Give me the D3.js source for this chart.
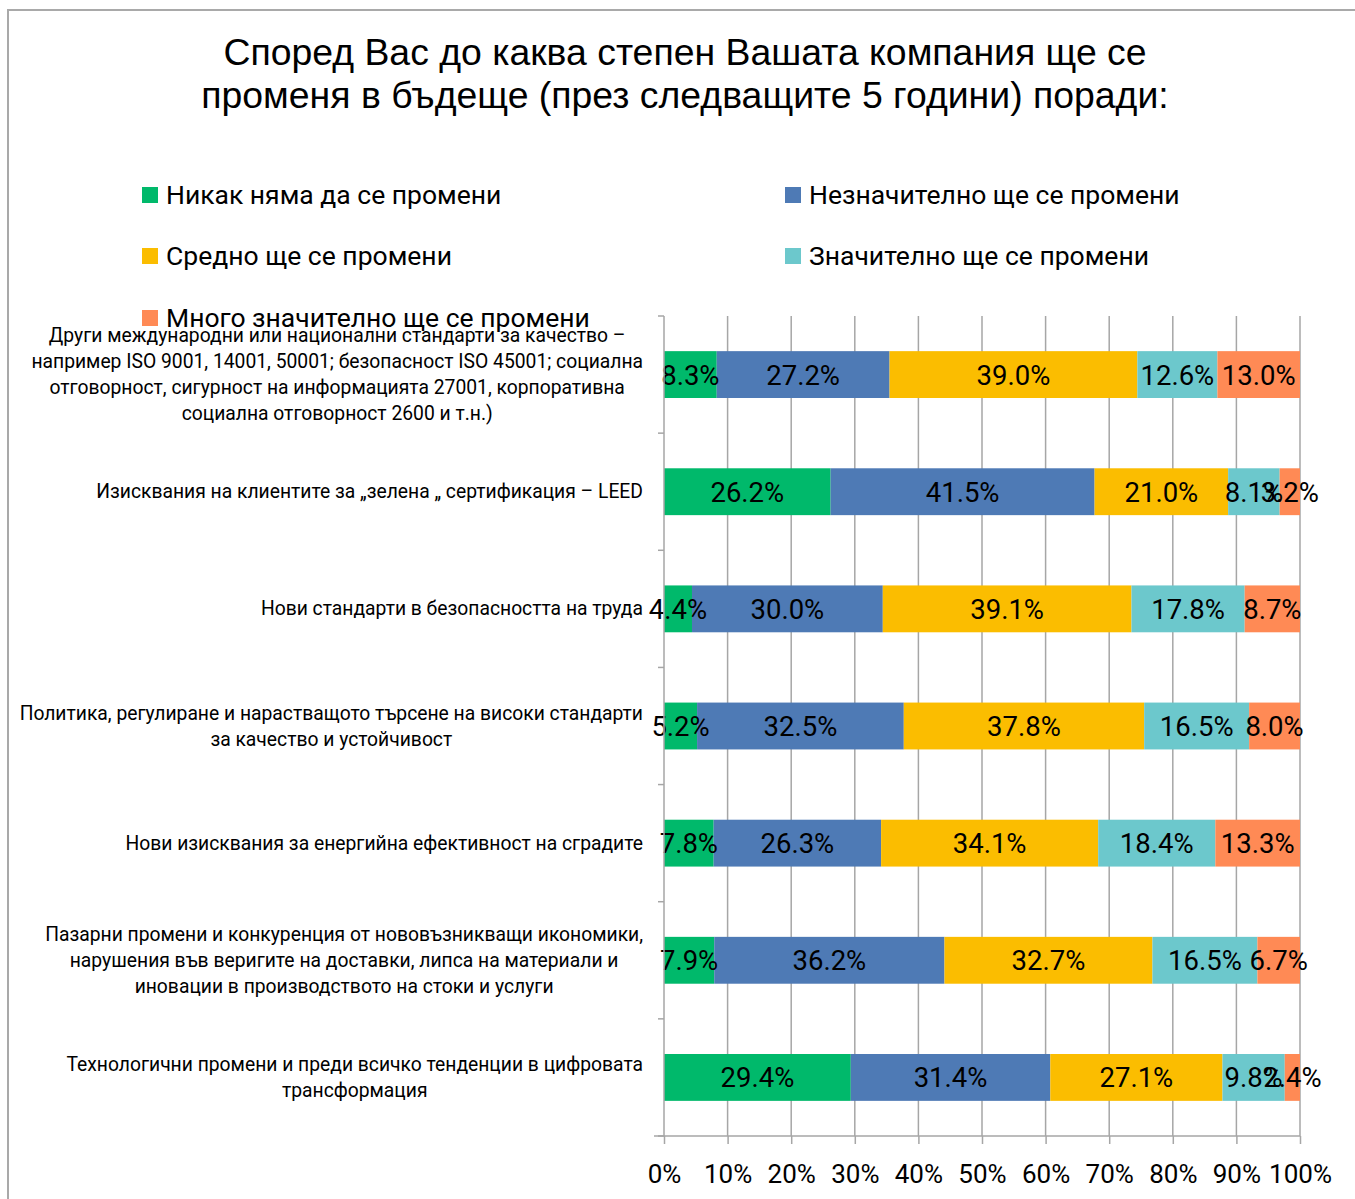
<!DOCTYPE html>
<html>
<head>
<meta charset="utf-8">
<script src="https://cdn.jsdelivr.net/npm/d3@7"></script>
<style>
    body { margin: 0; background: #fff; }
    text { fill: #000; }
    .title { font-family: "Liberation Sans", Arial, sans-serif; font-size: 37.4px; }
    .legend-text { font-family: Roboto, sans-serif; font-size: 26.5px; }
    .cat-label { font-family: Roboto, sans-serif; font-size: 19.3px; }
    .val-label { font-family: Roboto, sans-serif; font-size: 27.5px; }
    .tick-label { font-family: Roboto, sans-serif; font-size: 26px; }
</style>
</head>
<body>
<div id="chart"></div>
<script>
// categories (top to bottom), each split into display lines
const categories = [
    ["Други международни или национални стандарти за качество –",
     "например ISO 9001, 14001, 50001; безопасност ISO 45001; социална",
     "отговорност, сигурност на информацията 27001, корпоративна",
     "социална отговорност 2600 и т.н.)"],
    ["Изисквания на клиентите за „зелена „ сертификация – LEED"],
    ["Нови стандарти в безопасността на труда"],
    ["Политика, регулиране и нарастващото търсене на високи стандарти",
     "за качество и устойчивост"],
    ["Нови изисквания за енергийна ефективност на сградите"],
    ["Пазарни промени и конкуренция от нововъзникващи икономики,",
     "нарушения във веригите на доставки, липса на материали и",
     "иновации в производството на стоки и услуги"],
    ["Технологични промени и преди всичко тенденции в цифровата",
     "трансформация"]
];

const seriesNames = [
    "Никак няма да се промени",
    "Незначително ще се промени",
    "Средно ще се промени",
    "Значително ще се промени",
    "Много значително ще се промени"
];
const seriesColors = ["#00B96B", "#4E7AB5", "#FBBD00", "#6CC8CC", "#FF8A55"];

// percentages per series, same order as categories
const nikak        = [8.3, 26.2, 4.4, 5.2, 7.8, 7.9, 29.4];
const neznachitelno = [27.2, 41.5, 30.0, 32.5, 26.3, 36.2, 31.4];
const sredno       = [39.0, 21.0, 39.1, 37.8, 34.1, 32.7, 27.1];
const znachitelno  = [12.6, 8.1, 17.8, 16.5, 18.4, 16.5, 9.8];
const mnogo        = [13.0, 3.2, 8.7, 8.0, 13.3, 6.7, 2.4];

const xTicks = [0, 0.1, 0.2, 0.3, 0.4, 0.5, 0.6, 0.7, 0.8, 0.9, 1.0];

const titleLines = [
    "Според Вас до каква степен Вашата компания ще се",
    "променя в бъдеще (през следващите 5 години) поради:"
];

const seriesValues = [nikak, neznachitelno, sredno, znachitelno, mnogo];

// build rows: {key, s0..s4}
const rows = categories.map((c, i) => {
    let row = {key: i};
    seriesValues.forEach((s, j) => { row["s" + j] = s[i]; });
    return row;
});
const keys = seriesNames.map((d, j) => "s" + j);

const W = 1355, H = 1199;
const plot = {left: 664, right: 1300, top: 316, bottom: 1136};

const svg = d3.select("#chart").append("svg")
    .attr("width", W)
    .attr("height", H);

svg.append("rect").attr("width", W).attr("height", H).attr("fill", "#fff");

// outer frame
svg.append("rect")
    .attr("x", 8).attr("y", 10)
    .attr("width", W + 20).attr("height", H + 20)
    .attr("fill", "none")
    .attr("stroke", "#a9a9a9")
    .attr("stroke-width", 2);

// title
svg.append("text")
    .attr("class", "title")
    .attr("text-anchor", "middle")
    .selectAll("tspan")
    .data(titleLines)
    .enter()
    .append("tspan")
    .attr("x", 685)
    .attr("y", (d, i) => 65 + i * 43)
    .text(d => d);

// legend
const legendPos = [
    [142, 195], [785, 195],
    [142, 256], [785, 256],
    [142, 318]
];
const legend = svg.append("g").attr("class", "legend");
seriesNames.forEach((name, j) => {
    let g = legend.append("g")
        .attr("transform", `translate(${legendPos[j][0]}, ${legendPos[j][1]})`);
    g.append("rect")
        .attr("x", 0).attr("y", -8)
        .attr("width", 16).attr("height", 16)
        .attr("fill", seriesColors[j]);
    g.append("text")
        .attr("class", "legend-text")
        .attr("x", 24)
        .attr("y", 9)
        .text(name);
});

// scales
const xScale = d3.scaleLinear()
    .domain([0, 1])
    .range([plot.left, plot.right]);

const yScale = d3.scaleBand()
    .domain(rows.map(d => d.key))
    .range([plot.top, plot.bottom])
    .paddingInner(0.6)
    .paddingOuter(0.3);

// gridlines
svg.append("g")
    .selectAll("line")
    .data(xTicks.slice(1))
    .enter()
    .append("line")
    .attr("x1", d => xScale(d)).attr("x2", d => xScale(d))
    .attr("y1", plot.top).attr("y2", plot.bottom)
    .attr("stroke", "#a6a6a6")
    .attr("stroke-width", 1.5);

// stacked bars (100% normalised like the original)
const stack = d3.stack().keys(keys).offset(d3.stackOffsetExpand);
const stacked = stack(rows);

const layers = svg.append("g").selectAll("g")
    .data(stacked)
    .enter()
    .append("g")
    .attr("fill", (d, j) => seriesColors[j]);

layers.selectAll("rect")
    .data(d => d)
    .enter()
    .append("rect")
    .attr("x", d => xScale(d[0]))
    .attr("width", d => xScale(d[1]) - xScale(d[0]))
    .attr("y", d => yScale(d.data.key))
    .attr("height", yScale.bandwidth());

// value labels
stacked.forEach((layer, j) => {
    svg.append("g").selectAll("text")
        .data(layer)
        .enter()
        .append("text")
        .attr("class", "val-label")
        .attr("text-anchor", "middle")
        .attr("x", d => (xScale(d[0]) + xScale(d[1])) / 2)
        .attr("y", d => yScale(d.data.key) + yScale.bandwidth() / 2 + 10)
        .text(d => d3.format(".1f")(d.data[keys[j]]) + "%");
});

// y axis line with ticks at band boundaries
const step = yScale.step();
const yBounds = d3.range(categories.length + 1).map(i => plot.top + i * step);
svg.append("line")
    .attr("x1", plot.left).attr("x2", plot.left)
    .attr("y1", plot.top).attr("y2", plot.bottom)
    .attr("stroke", "#a6a6a6").attr("stroke-width", 1.5);
svg.append("g").selectAll("line")
    .data(yBounds)
    .enter()
    .append("line")
    .attr("x1", plot.left - 6).attr("x2", plot.left)
    .attr("y1", d => d).attr("y2", d => d)
    .attr("stroke", "#a6a6a6").attr("stroke-width", 1.5);

// x axis
const xAxis = d3.axisBottom(xScale)
    .tickValues(xTicks)
    .tickSize(8)
    .tickPadding(21)
    .tickFormat(d3.format(".0%"));

const xAxisG = svg.append("g")
    .attr("transform", `translate(0, ${plot.bottom})`)
    .call(xAxis);
xAxisG.select(".domain")
    .attr("stroke", "#a6a6a6").attr("stroke-width", 1.5)
    .attr("d", `M${plot.left - 10},0H${plot.right}`);
xAxisG.selectAll(".tick line").attr("stroke", "#a6a6a6").attr("stroke-width", 1.5);
xAxisG.selectAll(".tick text")
    .attr("class", "tick-label")
    .attr("fill", "#000");
xAxisG.attr("font-family", null).attr("font-size", null);

// category labels: centred block, widest line ends at the labels' right edge
const labelRight = 643;
const lineH = 26;
categories.forEach((lines, i) => {
    let cy = yScale(i) + yScale.bandwidth() / 2;
    let t = svg.append("text")
        .attr("class", "cat-label")
        .attr("text-anchor", "middle");
    let spans = t.selectAll("tspan")
        .data(lines)
        .enter()
        .append("tspan")
        .attr("y", (d, k) => cy + (k - (lines.length - 1) / 2) * lineH + 6.5)
        .text(d => d);
    let maxW = 0;
    spans.each(function() { maxW = Math.max(maxW, this.getComputedTextLength()); });
    spans.attr("x", labelRight - maxW / 2);
});
</script>
</body>
</html>
